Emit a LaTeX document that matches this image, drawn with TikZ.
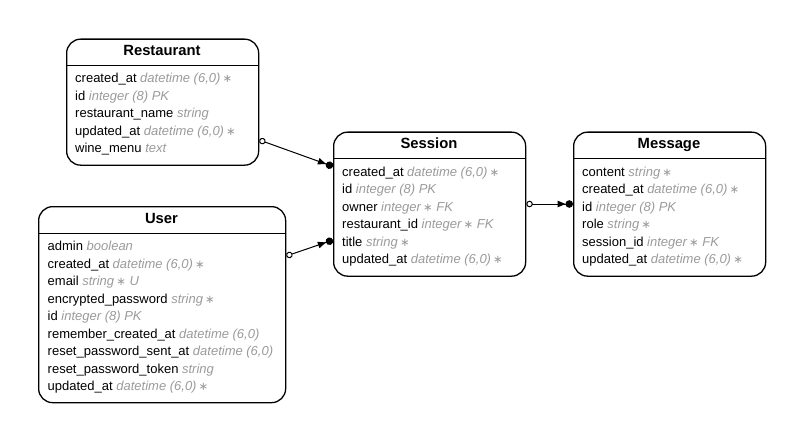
\documentclass[tikz,border=0pt]{standalone}
\usepackage{fontspec}
\setmainfont{Liberation Sans}
\newfontfamily\symf{DejaVu Sans}
\usetikzlibrary{arrows.meta}
\definecolor{typegray}{RGB}{155,155,155}
\newcommand\tyx[1]{{\color{typegray}\itshape #1}}
\newcommand\astx{{\symf\itshape\fontsize{11.5}{11.5}\selectfont ∗}}
\tikzset{
  entity/.style={draw, line width=1.3pt, rounded corners=14pt, inner sep=0pt,
    anchor=north west, fill=white},
  hdr/.style={line width=1pt},
  ttl/.style={anchor=base, inner sep=0pt, font=\fontsize{14.8}{16}\selectfont\bfseries},
  fld/.style={anchor=base west, inner sep=0pt, font=\fontsize{13}{14}\selectfont},
  rel/.style={line width=1pt, {Circle[open, length=6.5pt, line width=1pt]}-{Triangle[length=8pt, width=6.5pt] Circle[length=7.5pt]}}
}
\begin{document}
\begin{tikzpicture}[x=1pt, y=-1pt]
\useasboundingbox (0,0) rectangle (803,441);

% Restaurant
\node[entity, minimum width=192pt, minimum height=126pt] (restaurant) at (66,38.5) {};
\draw[hdr] (66,65.5) -- (258,65.5);
\node[ttl] (restaurant-t) at (162,55.5) {Restaurant};
\node[fld] (restaurant-1) at (75,83) {created\_at \tyx{datetime (6,0)\,\astx}};
\node[fld] (restaurant-2) at (75,100.5) {id \tyx{integer (8) PK}};
\node[fld] (restaurant-3) at (75,118) {restaurant\_name \tyx{string}};
\node[fld] (restaurant-4) at (75,135.5) {updated\_at \tyx{datetime (6,0)\,\astx}};
\node[fld] (restaurant-5) at (75,153) {wine\_menu \tyx{text}};

% User
\node[entity, minimum width=247pt, minimum height=196pt] (user) at (38,206) {};
\draw[hdr] (38,233) -- (285,233);
\node[ttl] (user-t) at (161.5,223) {User};
\node[fld] (user-1) at (47.5,250.5) {admin \tyx{boolean}};
\node[fld] (user-2) at (47.5,268) {created\_at \tyx{datetime (6,0)\,\astx}};
\node[fld] (user-3) at (47.5,285.5) {email \tyx{string\,\astx\ U}};
\node[fld] (user-4) at (47.5,303) {encrypted\_password \tyx{string\,\astx}};
\node[fld] (user-5) at (47.5,320.5) {id \tyx{integer (8) PK}};
\node[fld] (user-6) at (47.5,338) {remember\_created\_at \tyx{datetime (6,0)}};
\node[fld] (user-7) at (47.5,355.5) {reset\_password\_sent\_at \tyx{datetime (6,0)}};
\node[fld] (user-8) at (47.5,373) {reset\_password\_token \tyx{string}};
\node[fld] (user-9) at (47.5,390.5) {updated\_at \tyx{datetime (6,0)\,\astx}};

% Session
\node[entity, minimum width=192pt, minimum height=144pt] (session) at (333,131.5) {};
\draw[hdr] (333,158.5) -- (525,158.5);
\node[ttl] (session-t) at (429,148.5) {Session};
\node[fld] (session-1) at (342,176) {created\_at \tyx{datetime (6,0)\,\astx}};
\node[fld] (session-2) at (342,193.5) {id \tyx{integer (8) PK}};
\node[fld] (session-3) at (342,211) {owner \tyx{integer\,\astx\ FK}};
\node[fld] (session-4) at (342,228.5) {restaurant\_id \tyx{integer\,\astx\ FK}};
\node[fld] (session-5) at (342,246) {title \tyx{string\,\astx}};
\node[fld] (session-6) at (342,263.5) {updated\_at \tyx{datetime (6,0)\,\astx}};

% Message
\node[entity, minimum width=192pt, minimum height=144pt] (message) at (573,131.5) {};
\draw[hdr] (573,158.5) -- (765,158.5);
\node[ttl] (message-t) at (669,148.5) {Message};
\node[fld] (message-1) at (582,176) {content \tyx{string\,\astx}};
\node[fld] (message-2) at (582,193.5) {created\_at \tyx{datetime (6,0)\,\astx}};
\node[fld] (message-3) at (582,211) {id \tyx{integer (8) PK}};
\node[fld] (message-4) at (582,228.5) {role \tyx{string\,\astx}};
\node[fld] (message-5) at (582,246) {session\_id \tyx{integer\,\astx\ FK}};
\node[fld] (message-6) at (582,263.5) {updated\_at \tyx{datetime (6,0)\,\astx}};

% relationship ports
\coordinate (restaurant-p) at (restaurant.east |- 0,140);
\coordinate (user-p) at (user.east |- 0,256);
\coordinate (session-in1) at (session.west |- 0,166.5);
\coordinate (session-in2) at (session.west |- 0,240);
\coordinate (session-p) at (session.east |- 0,204);
\coordinate (message-in) at (message.west |- 0,204);

\draw[rel] (restaurant-p) -- (session-in1);
\draw[rel] (user-p) -- (session-in2);
\draw[rel] (session-p) -- (message-in);
\end{tikzpicture}
\end{document}
